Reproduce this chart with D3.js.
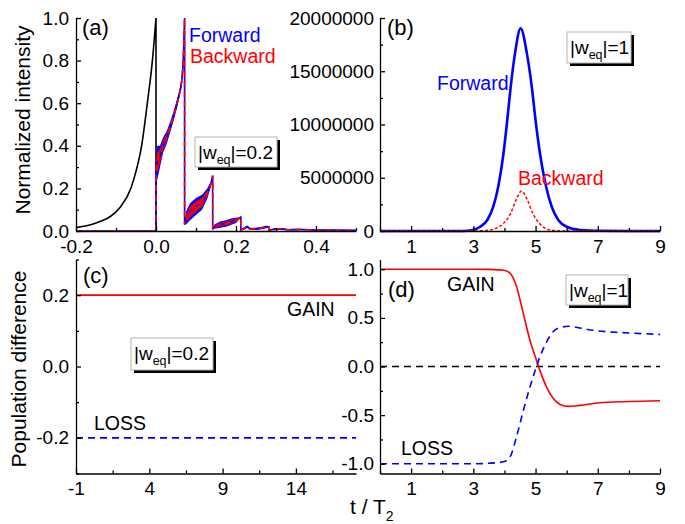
<html>
<head>
<script src="https://cdn.jsdelivr.net/npm/d3@7"></script>
<style>
    body { margin: 0; background: #fff; }
    text { font-family: "Liberation Sans", Arial, Helvetica, sans-serif; }
</style>
</head>
<body>
<svg width="685" height="524"></svg>
<script>
// (a) |weq|=0.2 : incident pulse (black) and output intensities
var tIn = [-0.2, -0.18, -0.157, -0.135, -0.115, -0.09, -0.063, -0.05, -0.036, -0.0217, -0.009, 0, 0];
var inA = [0.016, 0.022, 0.033, 0.048, 0.067, 0.11, 0.2, 0.28, 0.4, 0.6, 0.8, 1.0, 0];
var tA = [-0.2, 0, 0, 0.003, 0.01, 0.018, 0.027, 0.035, 0.044, 0.052,
          0.058, 0.064, 0.068, 0.0715, 0.0715, 0.075, 0.085, 0.1, 0.115, 0.128,
          0.137, 0.1417, 0.1417, 0.146, 0.16, 0.175, 0.19, 0.2, 0.212, 0.212,
          0.22, 0.228, 0.235, 0.25, 0.268, 0.277, 0.282, 0.282, 0.295, 0.31,
          0.33, 0.36, 0.4, 0.44, 0.5];
var fwdA = [0, 0, 0.30, 0.32, 0.35, 0.405, 0.44, 0.485, 0.54, 0.595,
            0.64, 0.70, 0.80, 1.0, 0.03, 0.06, 0.09, 0.115, 0.135, 0.175,
            0.22, 0.26, 0.008, 0.02, 0.03, 0.035, 0.045, 0.05, 0.065, 0.005,
            0.012, 0.02, 0.01, 0.01, 0.015, 0.02, 0.02, 0.004, 0.008, 0.01,
            0.006, 0.007, 0.005, 0.004, 0.003];
var bwdA = fwdA; // backward sits on top of forward at this scale
// half width of the fast oscillation band
var bandA = [0, 0, 0.05, 0.08, 0.05, 0.035, 0.03, 0.025, 0.022, 0.02,
             0.018, 0.015, 0.01, 0, 0, 0.03, 0.04, 0.04, 0.035, 0.025,
             0.012, 0, 0, 0.01, 0.015, 0.015, 0.015, 0.012, 0, 0,
             0.006, 0.006, 0.005, 0.005, 0.006, 0.006, 0, 0, 0.004, 0.004,
             0.003, 0.003, 0.002, 0.002, 0.002];

// (b) |weq|=1
var tB = [0, 2.5, 2.9, 3.22, 3.45, 3.64, 3.8, 3.97, 4.09, 4.2, 4.34, 4.52, 4.72, 4.88, 5.0, 5.14, 5.34, 5.52, 5.73, 6.0, 6.43, 7, 9];
var fwdB = [0, 0, 5e4, 4e5, 1.03e6, 2.28e6, 4.16e6, 7.3e6, 1.04e7, 1.35e7, 1.67e7, 1.903e7, 1.67e7, 1.35e7, 1.04e7, 7.3e6, 4.16e6, 2.28e6, 1.03e6, 4e5, 1e5, 2e4, 0];
var tBb = [0, 3.0, 3.54, 3.97, 4.2, 4.37, 4.55, 4.74, 4.91, 5.12, 5.47, 6, 9];
var bwdB = [0, 0, 1e5, 7.2e5, 1.66e6, 2.9e6, 3.75e6, 2.9e6, 1.66e6, 7.2e5, 1e5, 0, 0];

// (c) |weq|=0.2 population difference
var tC = [-1, 18.1];
var gainC = [0.2, 0.2];
var lossC = [-0.2, -0.2];

// (d) |weq|=1 population difference
var tD = [0, 1, 2, 3, 3.5, 3.97, 4.18, 4.39, 4.61, 4.82, 5.03, 5.14, 5.35, 5.57, 5.79, 6.06, 6.43, 7, 8, 9];
var gainD = [1, 1, 1, 1, 0.998, 0.99, 0.96, 0.82, 0.54, 0.27, 0.065, -0.04, -0.21, -0.33, -0.39, -0.41, -0.40, -0.375, -0.36, -0.352];
var lossD = [-1, -1, -1, -1, -0.995, -0.98, -0.93, -0.72, -0.45, -0.21, 0.0, 0.1, 0.25, 0.36, 0.40, 0.414, 0.395, 0.366, 0.345, 0.33];
var tZ = [0, 9];
var zeroD = [0, 0];

// ticks
var xMajA = [-0.2, 0, 0.2, 0.4], xMinA = [-0.1, 0.1, 0.3, 0.5];
var yMajA = [0, 0.2, 0.4, 0.6, 0.8, 1.0], yMinA = [0.1, 0.3, 0.5, 0.7, 0.9];
var xMajB = [1, 3, 5, 7, 9], xMinB = [0, 2, 4, 6, 8];
var yMajB = [0, 5000000, 10000000, 15000000, 20000000], yMinB = [2500000, 7500000, 12500000, 17500000];
var xMajC = [-1, 4, 9, 14], xMinC = [1.5, 6.5, 11.5, 16.5];
var yMajC = [-0.2, 0, 0.2], yMinC = [-0.3, -0.1, 0.1, 0.3];
var yMajD = [-1, -0.5, 0, 0.5, 1], yMinD = [-0.75, -0.25, 0.25, 0.75];

var FONT = '"Liberation Sans", Arial, Helvetica, sans-serif';
var BLUE = '#0000ff', RED = '#ff0000';
var svg = d3.select('svg');

function panel(xr, yr, xd, yd) {
    return {
        x: d3.scaleLinear().domain(xd).range(xr),
        y: d3.scaleLinear().domain(yd).range(yr)
    };
}
var pA = panel([76, 356], [231, 18], [-0.2, 0.5], [0, 1]);
var pB = panel([380, 660], [231, 18], [0, 9], [0, 20000000]);
var pC = panel([76, 356], [473.5, 259.5], [-1, 18.1], [-0.3, 0.3]);
var pD = panel([380, 660], [473.5, 259.5], [0, 9], [-1.1, 1.1]);

// path through points, smooth between jumps (repeated t), vertical at jumps
function jumpPath(p, ts, vs, curve) {
    var line = d3.line().x(d => p.x(d[0])).y(d => p.y(d[1])).curve(curve);
    var segs = [[]];
    ts.forEach((t, i) => {
        if (i > 0 && t === ts[i - 1]) segs.push([]);
        segs[segs.length - 1].push([t, vs[i]]);
    });
    return segs.map((s, i) => {
        var d = s.length > 1 ? line(s) : 'M' + p.x(s[0][0]) + ',' + p.y(s[0][1]);
        return i === 0 ? d : 'L' + d.slice(1);
    }).join('');
}

function drawLine(p, ts, vs, color, width, dash) {
    svg.append('path')
        .attr('d', jumpPath(p, ts, vs, d3.curveMonotoneX))
        .attr('fill', 'none')
        .attr('stroke', color)
        .attr('stroke-width', width)
        .attr('stroke-dasharray', dash || null);
}

function band(p, ts, vs, hs, k, color) {
    var area = d3.area()
        .x(d => p.x(d[0]))
        .y0(d => p.y(Math.max(0, d[1] - k * d[2])))
        .y1(d => p.y(d[1] + k * d[2]));
    svg.append('path')
        .attr('d', area(ts.map((t, i) => [t, vs[i], hs[i]])))
        .attr('fill', color)
        .attr('stroke', 'none');
}

function axes(p, xMaj, xMin, yMaj, yMin, xf, yf, ypad) {
    var y0 = p.y.range()[0], x0 = p.x.range()[0];
    var gxm = svg.append('g').attr('transform', 'translate(0,' + y0 + ')')
        .call(d3.axisBottom(p.x).tickValues(xMin).tickSize(-3).tickSizeOuter(0).tickFormat(''));
    gxm.select('.domain').remove();
    var gym = svg.append('g').attr('transform', 'translate(' + x0 + ',0)')
        .call(d3.axisLeft(p.y).tickValues(yMin).tickSize(-3).tickSizeOuter(0).tickFormat(''));
    gym.select('.domain').remove();
    var gx = svg.append('g').attr('transform', 'translate(0,' + y0 + ')')
        .call(d3.axisBottom(p.x).tickValues(xMaj).tickSize(-5).tickSizeOuter(0).tickPadding(8.5).tickFormat(xf));
    var gy = svg.append('g').attr('transform', 'translate(' + x0 + ',0)')
        .call(d3.axisLeft(p.y).tickValues(yMaj).tickSize(-5).tickSizeOuter(0).tickPadding(ypad).tickFormat(yf));
    [gxm, gym, gx, gy].forEach(g => {
        g.attr('font-size', 19).attr('font-family', FONT);
        g.selectAll('line, path').attr('stroke', '#000').attr('stroke-width', 1.3);
        g.selectAll('text').attr('fill', '#000');
    });
}

function label(x, y, str, size, color, anchor) {
    return svg.append('text')
        .attr('x', x).attr('y', y)
        .attr('font-size', size)
        .attr('fill', color || '#000')
        .attr('text-anchor', anchor || 'start')
        .text(str);
}

function weqBox(x, y, w, h, val) {
    svg.append('rect').attr('x', x + 3).attr('y', y + 3).attr('width', w).attr('height', h).attr('fill', '#000');
    svg.append('rect').attr('x', x).attr('y', y).attr('width', w).attr('height', h)
        .attr('fill', '#fff').attr('stroke', '#b4b4b4').attr('stroke-width', 1);
    var t = svg.append('text').attr('x', x + 3).attr('y', y + 21.5).attr('font-size', 19);
    t.append('tspan').text('|w');
    t.append('tspan').attr('font-size', 12.5).attr('dy', 5).text('eq');
    t.append('tspan').attr('dy', -5).text('|=' + val);
}

var f1 = d => d.toFixed(1);
var f0 = d => String(d);

// ---- (a)
drawLine(pA, tIn, inA, '#000', 1.6);
band(pA, tA, fwdA, bandA, 1, BLUE);
band(pA, tA, bwdA, bandA, 0.6, RED);
drawLine(pA, tA, fwdA, BLUE, 1.6);
drawLine(pA, tA, bwdA, RED, 1.6, '6,4');
axes(pA, xMajA, xMinA, yMajA, yMinA, f1, f1, 7);
label(82, 35, '(a)', 22);
label(189, 42, 'Forward', 19.5, BLUE);
label(190, 63, 'Backward', 19.5, RED);
weqBox(195, 137, 82, 30, '0.2');

// ---- (b)
drawLine(pB, tB, fwdB, BLUE, 2.6);
drawLine(pB, tBb, bwdB, RED, 1.5, '3,2');
axes(pB, xMajB, xMinB, yMajB, yMinB, f0, f0, 6);
label(387, 35, '(b)', 22);
label(437, 90, 'Forward', 19.5, BLUE);
label(518, 185, 'Backward', 19.5, RED);
weqBox(567, 32, 64, 31, '1');

// ---- (c)
drawLine(pC, tC, gainC, RED, 1.6);
drawLine(pC, tC, lossC, BLUE, 1.6, '7,5');
axes(pC, xMajC, xMinC, yMajC, yMinC, f0, f1, 7);
label(83, 283, '(c)', 22);
label(287, 316, 'GAIN', 19.5);
label(94, 430, 'LOSS', 19.5);
weqBox(131, 338, 82, 32, '0.2');

// ---- (d)
drawLine(pD, tZ, zeroD, '#000', 1.5, '7,5');
drawLine(pD, tD, gainD, RED, 1.6);
drawLine(pD, tD, lossD, BLUE, 1.6, '7,5');
axes(pD, xMajB, xMinB, yMajD, yMinD, f0, f1, 6);
label(388, 297, '(d)', 22);
label(447, 291, 'GAIN', 19.5);
label(401, 455, 'LOSS', 19.5);
weqBox(566, 275, 62, 30, '1');

// axis titles
label(0, 0, 'Normalized intensity', 21, '#000', 'middle')
    .attr('transform', 'translate(30,120) rotate(-90)');
label(0, 0, 'Population difference', 21, '#000', 'middle')
    .attr('transform', 'translate(26,369) rotate(-90)');
var tt = label(350, 514, 't / T', 21);
tt.append('tspan').attr('font-size', 14).attr('dy', 7).text('2');
</script>
</body>
</html>
